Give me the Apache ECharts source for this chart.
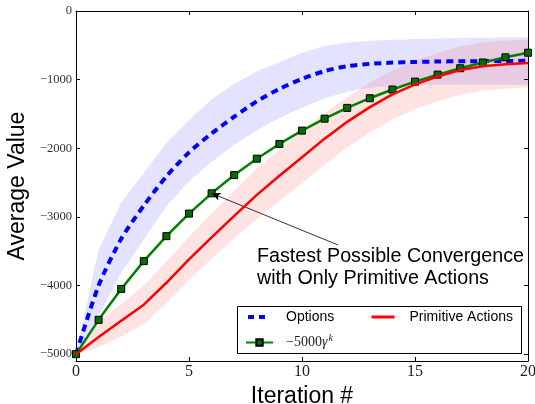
<!DOCTYPE html>
<html><head><meta charset="utf-8">
<script src="https://cdn.jsdelivr.net/npm/echarts@6/dist/echarts.min.js"></script>
<style>html,body{margin:0;padding:0;background:#fff}#c{width:535px;height:404px}</style>
</head><body><div id="c"></div>
<script>
const iterations = [0,1,2,3,4,5,6,7,8,9,10,11,12,13,14,15,16,17,18,19,20];
const optionsMean = [-5000,-4000,-3320,-2835,-2410,-2060,-1785,-1540,-1316,-1135,-990,-875,-805,-770,-752,-742,-736,-732,-730,-728,-726];
const optionsUpper = [-5000,-3470,-2795,-2360,-1925,-1590,-1290,-1060,-880,-745,-610,-510,-458,-432,-418,-408,-401,-395,-390,-387,-384];
const optionsLower = [-5000,-4445,-3814,-3329,-2844,-2480,-2200,-1950,-1740,-1560,-1410,-1270,-1175,-1120,-1090,-1080,-1076,-1075,-1075,-1074,-1073];
const primitiveMean = [-5000,-4750,-4515,-4280,-3960,-3620,-3300,-2985,-2680,-2400,-2130,-1860,-1615,-1400,-1215,-1070,-955,-860,-805,-775,-757];
const primitiveUpper = [-5000,-4520,-4270,-4000,-3650,-3290,-2950,-2615,-2300,-2020,-1750,-1490,-1255,-1045,-865,-725,-610,-515,-460,-430,-414];
const primitiveLower = [-5000,-4900,-4740,-4566,-4260,-3920,-3610,-3315,-3030,-2770,-2510,-2240,-1990,-1770,-1580,-1430,-1315,-1220,-1163,-1131,-1111];
const gammaValues = [-5000,-4500,-4050,-3645,-3281,-2952,-2657,-2391,-2152,-1937,-1743,-1569,-1412,-1271,-1144,-1029,-927,-834,-750,-675,-608];
const yTicks = [0,-1000,-2000,-3000,-4000,-5000];
const arrowTail = [11.6,-3410];
const arrowHead = [6,-2657];

const pairs = (ys) => iterations.map((x,i)=>[x, ys[i]]);
const minus = v => String(v).replace('-', '\u2212');

function band(name, lower, upper, color) {
  return {
    type:'custom', name:name, silent:true, z:1, clip:true,
    data: iterations.map((x,i)=>[x, lower[i], upper[i]]),
    encode:{x:0, y:[1,2]},
    renderItem: function(params, api){
      if (params.dataIndex !== 0) return null;
      const pts = [];
      for (let i=0;i<iterations.length;i++) pts.push(api.coord([iterations[i], upper[i]]));
      for (let i=iterations.length-1;i>=0;i--) pts.push(api.coord([iterations[i], lower[i]]));
      return {type:'polygon', shape:{points:pts}, style:{fill:color}};
    }
  };
}

const chart = echarts.init(document.getElementById('c'), null, {renderer:'canvas'});
const axisLineStyle = {color:'#000', width:1};
chart.setOption({
  animation:false,
  grid:{left:76, right:7, top:11, bottom:43, show:false, containLabel:false, outerBoundsMode:'none'},
  xAxis:[
    {type:'value', min:0, max:20, interval:5, position:'bottom',
     axisLine:{show:true, onZero:false, lineStyle:axisLineStyle},
     axisTick:{show:true, inside:true, length:4, lineStyle:axisLineStyle},
     axisLabel:{margin:3, fontFamily:'Liberation Serif', fontSize:16, color:'#222'},
     splitLine:{show:false},
     name:'Iteration #', nameLocation:'middle', nameGap:20,
     nameTextStyle:{fontFamily:'Liberation Sans', fontSize:23, color:'#000'}},
    {type:'value', min:0, max:20, interval:5, position:'top',
     axisLine:{show:true, onZero:false, lineStyle:axisLineStyle},
     axisTick:{show:true, inside:true, length:4, lineStyle:axisLineStyle},
     axisLabel:{show:false}, splitLine:{show:false}}
  ],
  yAxis:[
    {type:'value', min:-5100, max:0, position:'left',
     axisLine:{show:true, onZero:false, lineStyle:axisLineStyle},
     axisTick:{show:true, inside:true, length:4, customValues:yTicks, lineStyle:axisLineStyle},
     axisLabel:{customValues:yTicks, formatter:minus, margin:4, fontFamily:'Liberation Serif', fontSize:12.5, color:'#333'},
     splitLine:{show:false},
     name:'Average Value', nameLocation:'middle', nameGap:44,
     nameTextStyle:{fontFamily:'Liberation Sans', fontSize:23, color:'#000'}},
    {type:'value', min:-5100, max:0, position:'right',
     axisLine:{show:true, onZero:false, lineStyle:axisLineStyle},
     axisTick:{show:true, inside:true, length:4, customValues:yTicks, lineStyle:axisLineStyle},
     axisLabel:{show:false}, splitLine:{show:false}}
  ],
  legend:[
    {data:['Options'], left:246, top:310, padding:0, itemWidth:21, itemHeight:10, selectedMode:false,
     itemStyle:{opacity:0}, lineStyle:{type:[6,5], width:4, color:'#0000ff'},
     textStyle:{fontFamily:'Liberation Sans', fontSize:14, color:'#000', padding:[0,0,0,12]}},
    {data:['Primitive Actions'], left:370, top:310, padding:0, itemWidth:23, itemHeight:10, selectedMode:false,
     itemStyle:{opacity:0}, lineStyle:{width:3, color:'#ff0000'},
     textStyle:{fontFamily:'Liberation Sans', fontSize:14, color:'#000', padding:[0,0,0,10]}},
    {data:['gamma'], left:245, top:333, padding:0, itemWidth:27, itemHeight:8, selectedMode:false,
     formatter:function(){ return '{m|\u22125000}{g|\u03b3}{s|k}'; },
     textStyle:{color:'#000', padding:[0,0,0,8],
       rich:{ m:{fontFamily:'Liberation Serif', fontSize:14, color:'#222'},
              g:{fontFamily:'Liberation Serif', fontStyle:'italic', fontSize:14, color:'#222'},
              s:{fontFamily:'Liberation Serif', fontStyle:'italic', fontSize:10, color:'#222', padding:[0,0,9,1]} }}}
  ],
  graphic:[
    {type:'rect', left:237, top:306, z:3, shape:{width:284, height:47},
     style:{fill:'#fff', stroke:'#000', lineWidth:1}},
    {type:'text', left:257, top:246, z:10,
     style:{text:'Fastest Possible Convergence\nwith Only Primitive Actions', font:'19.7px "Liberation Sans"', fill:'#000', lineHeight:22}}
  ],
  series:[
    band('optionsBand', optionsLower, optionsUpper, 'rgba(0,0,255,0.11)'),
    band('primitiveBand', primitiveLower, primitiveUpper, 'rgba(255,0,0,0.11)'),
    {type:'line', name:'Options', data:pairs(optionsMean), symbol:'none', z:3, smooth:0.25,
     lineStyle:{color:'#0000ff', width:4, type:[7,5]}, itemStyle:{color:'#0000ff'}},
    {type:'line', name:'gamma', data:pairs(gammaValues), symbol:'rect', symbolSize:7, z:4,
     lineStyle:{color:'#008000', width:2.5},
     itemStyle:{color:'#006e00', borderColor:'#000', borderWidth:1},
     markLine:{silent:true, symbol:['none','arrow'], symbolSize:[6,9], label:{show:false},
       lineStyle:{color:'#000', width:0.8, type:'solid'},
       data:[[{coord:arrowTail},{coord:arrowHead}]]}},
    {type:'line', name:'Primitive Actions', data:pairs(primitiveMean), symbol:'none', z:5,
     lineStyle:{color:'#ff0000', width:2.5}, itemStyle:{color:'#ff0000'}}
  ]
});
</script></body></html>
